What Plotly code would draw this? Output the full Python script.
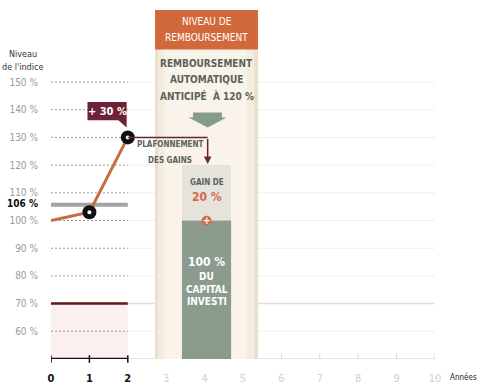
import plotly.graph_objects as go

# ---- data ----
years = [0, 1, 2]
index_level = [100, 103, 130]
marker_years = [1, 2]
marker_levels = [103, 130]
grid_levels = [60, 80, 90, 100, 110, 120, 130, 140, 150]
y_tick_vals = [60, 70, 80, 90, 100, 106, 110, 120, 130, 140, 150]
y_tick_text = ["60 %", "70 %", "80 %", "90 %", "100 %", "106 %", "110 %", "120 %", "130 %", "140 %", "150 %"]
x_tick_vals = [0, 1, 2, 3, 4, 5, 6, 7, 8, 9, 10]
x_tick_text = ["0", "1", "2", "3", "4", "5", "6", "7", "8", "9", "10"]
barrier_level = 70
threshold_level = 106
cap_level = 120
capital_level = 100
gain_label = "+ 30 %"

FONT = "Liberation Sans Narrow, DejaVu Sans Condensed, Roboto Condensed, Roboto, sans-serif"
ORANGE = "#c96b40"
HEADER = "#d2693c"
MAROON = "#6b2335"
GREEN = "#8b9b8d"
TEXT_DARK = "#5b6257"

fig = go.Figure()

# index line
fig.add_trace(go.Scatter(x=years, y=index_level, mode="lines",
                         line=dict(color=ORANGE, width=3), hoverinfo="skip"))
fig.add_trace(go.Scatter(x=marker_years, y=marker_levels, mode="markers",
                         marker=dict(size=14, color="#111111"), hoverinfo="skip"))
fig.add_trace(go.Scatter(x=marker_years, y=marker_levels, mode="markers",
                         marker=dict(size=4, color="white"), hoverinfo="skip"))

shapes = []
# pink zone under barrier
shapes.append(dict(type="rect", xref="x", yref="y", x0=0, x1=2, y0=50, y1=barrier_level,
                   fillcolor="#fcefef", line_width=0, layer="below"))
# gridlines
for g in grid_levels:
    shapes.append(dict(type="line", xref="x", yref="y", x0=2, x1=10, y0=g, y1=g,
                       line=dict(color="#efefef", width=1), layer="below"))
    shapes.append(dict(type="line", xref="x", yref="y", x0=0, x1=2, y0=g, y1=g,
                       line=dict(color="#9a9a9a", width=1, dash="2px,2px"), layer="below"))
# barrier line
shapes.append(dict(type="line", xref="x", yref="y", x0=2, x1=10, y0=barrier_level, y1=barrier_level,
                   line=dict(color="#f0d8d8", width=1.5), layer="below"))
shapes.append(dict(type="line", xref="x", yref="y", x0=0, x1=2, y0=barrier_level, y1=barrier_level,
                   line=dict(color="#5e1616", width=2.5), layer="below"))
# 106 band
shapes.append(dict(type="line", xref="x", yref="y", x0=0, x1=2, y0=threshold_level - 0.3, y1=threshold_level - 0.3,
                   line=dict(color="#a3a3a3", width=4), layer="below"))
# x axis lines
shapes.append(dict(type="line", xref="x", yref="y", x0=2, x1=10, y0=50, y1=50,
                   line=dict(color="#dcdcdc", width=1.5), layer="below"))
for t in x_tick_vals[3:]:
    shapes.append(dict(type="line", xref="x", yref="paper", x0=t, x1=t, y0=0, y1=0.018,
                       line=dict(color="#dcdcdc", width=1), layer="below"))

# panel
shapes.append(dict(type="rect", xref="x", yref="y", x0=2.71, x1=5.39, y0=50, y1=176,
                   fillcolor="#ebe0cf", line_width=0, layer="below"))
shapes.append(dict(type="rect", xref="x", yref="y", x0=2.79, x1=5.29, y0=50, y1=176,
                   fillcolor="#f4ecdf", line_width=0, layer="below"))
shapes.append(dict(type="rect", xref="x", yref="y", x0=2.95, x1=5.1, y0=50, y1=176,
                   fillcolor="#f9f3ea", line_width=0, layer="below"))
# header
shapes.append(dict(type="rect", xref="x", yref="y", x0=2.71, x1=5.39, y0=161.7, y1=176,
                   fillcolor=HEADER, line_width=0, layer="below"))
# arrow
shapes.append(dict(type="path", xref="x", yref="y",
                   path="M 3.7 139.0 L 4.45 139.0 L 4.45 137.2 L 4.57 137.2 L 4.08 133.6 L 3.58 137.2 L 3.7 137.2 Z",
                   fillcolor="#869a8e", line_width=0, layer="below"))
# gain box and capital box
shapes.append(dict(type="rect", xref="x", yref="y", x0=3.41, x1=4.69, y0=capital_level, y1=cap_level,
                   fillcolor="#e6e2dc", line_width=0, layer="below"))
shapes.append(dict(type="rect", xref="x", yref="y", x0=3.41, x1=4.69, y0=50, y1=capital_level,
                   fillcolor=GREEN, line_width=0, layer="below"))
# black axis 0-2
shapes.append(dict(type="line", xref="x", yref="y", x0=0, x1=2, y0=50, y1=50,
                   line=dict(color="#111111", width=2.5)))
for t in years:
    shapes.append(dict(type="line", xref="x", yref="paper", x0=t, x1=t, y0=-0.011, y1=0.011,
                       line=dict(color="#111111", width=1.5)))
# cap line
shapes.append(dict(type="line", xref="x", yref="y", x0=2, x1=4.08, y0=130, y1=130,
                   line=dict(color=MAROON, width=1.5)))
# +30 box
shapes.append(dict(type="rect", xref="x", yref="y", x0=0.95, x1=1.97, y0=136.2, y1=142.8,
                   fillcolor=MAROON, line_width=0))
shapes.append(dict(type="path", xref="x", yref="y",
                   path="M 1.75 136.3 L 1.97 136.3 L 1.97 133.6 Z",
                   fillcolor=MAROON, line_width=0))
# plus circle
shapes.append(dict(type="circle", xref="x", yref="y", x0=3.92, x1=4.18, y0=98.3, y1=101.7,
                   fillcolor="#d36a45", line_width=0))

annotations = []
def txt(x, y, s, size, color, bold=False, xanchor="center", xref="x", yref="y"):
    annotations.append(dict(x=x, y=y, xref=xref, yref=yref, text=("<b>%s</b>" % s) if bold else s,
                            showarrow=False, xanchor=xanchor, yanchor="middle",
                            font=dict(family=FONT, size=size, color=color)))

# arrow down from cap line
annotations.append(dict(x=4.08, y=120.4, ax=4.08, ay=130, xref="x", yref="y", axref="x", ayref="y",
                        text="", showarrow=True, arrowhead=2, arrowsize=1, arrowwidth=1.5,
                        arrowcolor=MAROON))

# y axis title
txt(-0.073, 0.874, "Niveau", 9, "#333333", xref="paper", yref="paper")
txt(-0.073, 0.836, "de l'indice", 9, "#333333", xref="paper", yref="paper")
# x axis title
txt(1.115, -0.052, "Années", 8, "#222222", xanchor="right", xref="paper", yref="paper")

# header text
txt(4.05, 172.0, "NIVEAU DE", 10, "white")
txt(4.05, 166.2, "REMBOURSEMENT", 10, "white")
# panel text
txt(4.05, 156.7, "REMBOURSEMENT", 10, TEXT_DARK, bold=True)
txt(4.05, 150.9, "AUTOMATIQUE", 10, TEXT_DARK, bold=True)
txt(4.05, 145.1, "ANTICIPÉ  À 120 %", 10, TEXT_DARK, bold=True)
# plafonnement
txt(3.1, 127.4, "PLAFONNEMENT", 8, TEXT_DARK, bold=True)
txt(3.1, 121.6, "DES GAINS", 8, TEXT_DARK, bold=True)
# gain box
txt(4.05, 113.7, "GAIN DE", 8, TEXT_DARK, bold=True)
txt(4.05, 108.4, "20 %", 12, "#d36a45", bold=True)
txt(4.05, 100.0, "+", 10, "white", bold=True)
# capital box
txt(4.05, 85.2, "100 %", 12, "white", bold=True)
txt(4.05, 79.8, "DU", 10, "white", bold=True)
txt(4.05, 75.2, "CAPITAL", 10, "white", bold=True)
txt(4.05, 70.6, "INVESTI", 10, "white", bold=True)
# +30 label
txt(1.46, 139.5, gain_label, 11, "white", bold=True)

y_ticktext = [("<b><span style='color:#111111'>%s</span></b>" % t) if v == threshold_level else t
              for v, t in zip(y_tick_vals, y_tick_text)]
x_ticktext = [("<b><span style='color:#111111'>%s</span></b>" % t) if v in years else t
              for v, t in zip(x_tick_vals, x_tick_text)]

fig.update_layout(
    width=482, height=390,
    margin=dict(l=51, r=47, t=10, b=31),
    paper_bgcolor="white", plot_bgcolor="white",
    showlegend=False, hovermode=False,
    shapes=shapes, annotations=annotations,
    xaxis=dict(range=[0, 10], showgrid=False, zeroline=False, showline=False,
               tickvals=x_tick_vals, ticktext=x_ticktext, ticks="", automargin=False,
               tickfont=dict(family=FONT, size=11, color="#d0d0d0"),
               ticklabelstandoff=11, fixedrange=True),
    yaxis=dict(range=[50, 176], showgrid=False, zeroline=False, showline=False,
               tickvals=y_tick_vals, ticktext=y_ticktext, ticks="", automargin=False,
               tickfont=dict(family=FONT, size=10, color="#9a9a9a"),
               ticklabelstandoff=12, fixedrange=True),
)

fig.write_html("out.html", config={"displayModeBar": False},
               post_script="document.body.style.margin='0';document.body.style.overflow='hidden';")
